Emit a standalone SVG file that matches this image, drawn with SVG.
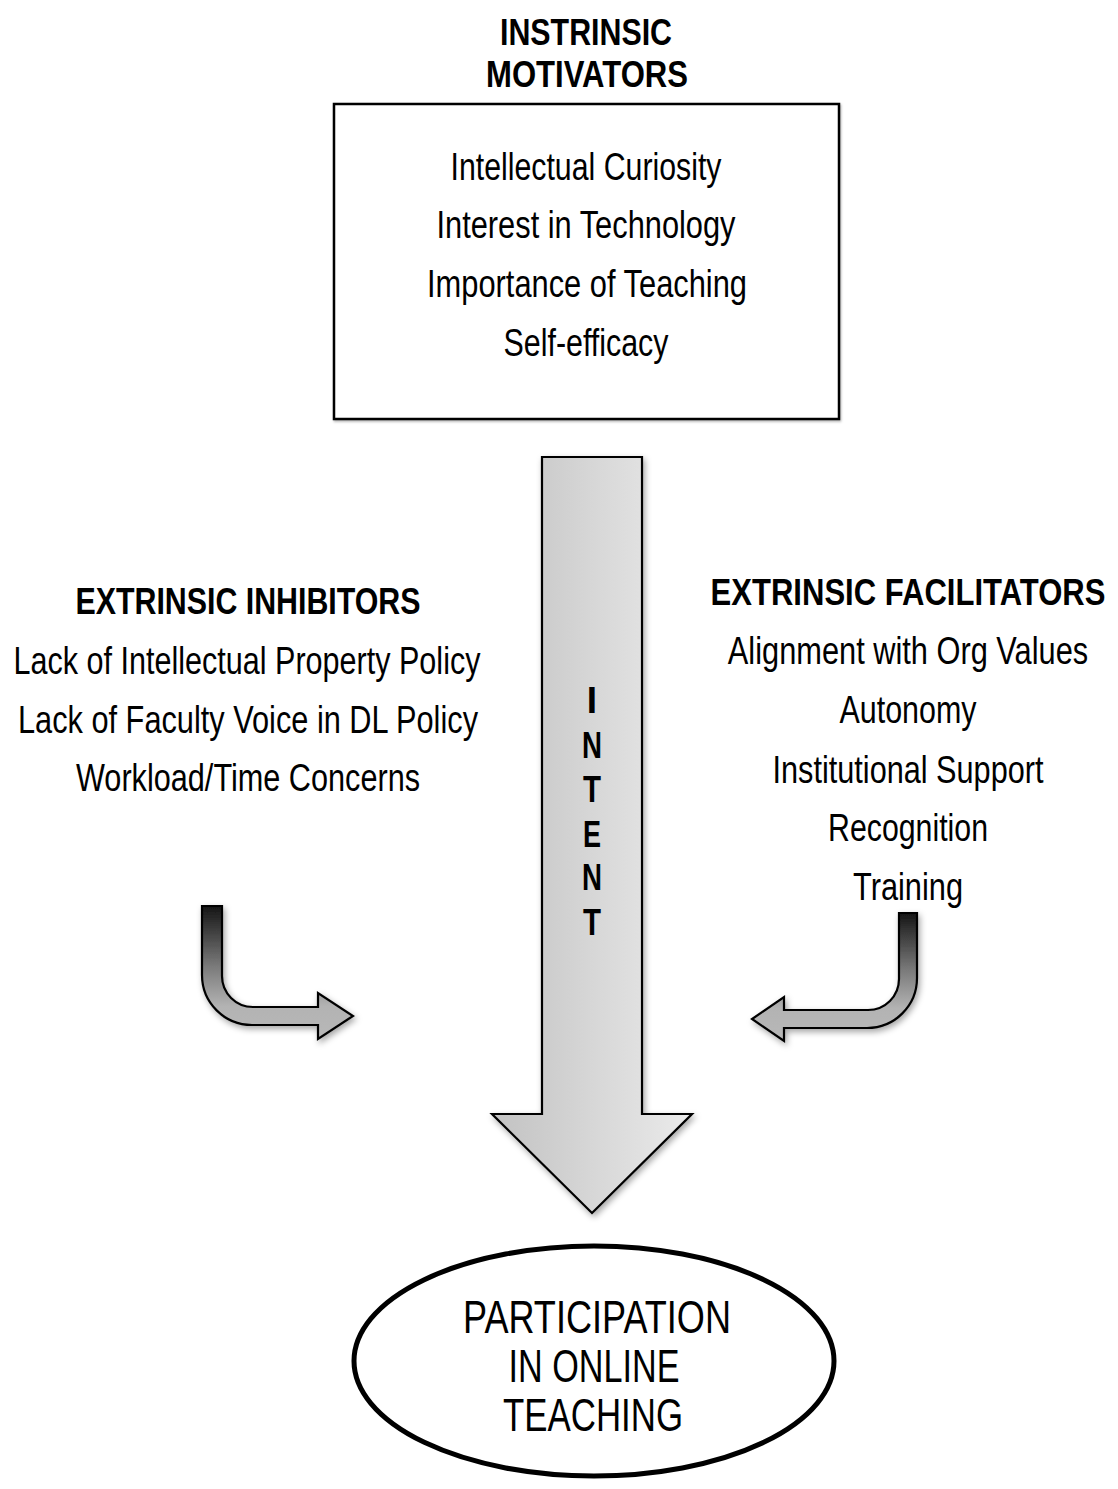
<svg xmlns="http://www.w3.org/2000/svg" width="1118" height="1489" viewBox="0 0 1118 1489">
  <style>
    .t { font-family: "Liberation Sans Narrow", "Liberation Sans", Arial, sans-serif; font-size: 38px; fill: #000; text-anchor: middle; }
    .b { font-weight: bold; font-size: 37px; }
    .big { font-size: 46px; }
    .outline { stroke: #000; stroke-width: 2.2; stroke-linejoin: miter; }
  </style>
  <defs>
    <linearGradient id="shaftGrad" gradientUnits="userSpaceOnUse" x1="492" y1="0" x2="692" y2="0">
      <stop offset="0" stop-color="#c2c2c2"/>
      <stop offset="1" stop-color="#ebebeb"/>
    </linearGradient>
    <linearGradient id="bendGradL" gradientUnits="userSpaceOnUse" x1="0" y1="906" x2="0" y2="1040">
      <stop offset="0" stop-color="#151515"/>
      <stop offset="0.45" stop-color="#7a7a7a"/>
      <stop offset="0.75" stop-color="#b3b3b3"/>
      <stop offset="1" stop-color="#b8b8b8"/>
    </linearGradient>
    <linearGradient id="bendGradR" gradientUnits="userSpaceOnUse" x1="0" y1="913" x2="0" y2="1040">
      <stop offset="0" stop-color="#151515"/>
      <stop offset="0.45" stop-color="#7a7a7a"/>
      <stop offset="0.75" stop-color="#b3b3b3"/>
      <stop offset="1" stop-color="#b8b8b8"/>
    </linearGradient>
    <filter id="shadow" x="-20%" y="-20%" width="140%" height="140%">
      <feDropShadow dx="2" dy="3" stdDeviation="3" flood-color="#000" flood-opacity="0.35"/>
    </filter>
    <filter id="boxShadow" x="-5%" y="-5%" width="110%" height="110%">
      <feDropShadow dx="1" dy="1.5" stdDeviation="1.2" flood-color="#000" flood-opacity="0.3"/>
    </filter>
  </defs>

  <!-- Intrinsic motivators -->
  <g id="intrinsic-motivators">
    <text class="t b" x="586" y="45" textLength="172" lengthAdjust="spacingAndGlyphs">INSTRINSIC</text>
    <text class="t b" x="587" y="87" textLength="202" lengthAdjust="spacingAndGlyphs">MOTIVATORS</text>
    <rect x="334" y="104" width="505" height="315" fill="#fff" stroke="#000" stroke-width="2.5" filter="url(#boxShadow)"/>
    <text class="t" x="586" y="180" textLength="271" lengthAdjust="spacingAndGlyphs">Intellectual Curiosity</text>
    <text class="t" x="586" y="238" textLength="299" lengthAdjust="spacingAndGlyphs">Interest in Technology</text>
    <text class="t" x="587" y="297" textLength="320" lengthAdjust="spacingAndGlyphs">Importance of Teaching</text>
    <text class="t" x="586" y="356" textLength="165" lengthAdjust="spacingAndGlyphs">Self-efficacy</text>
  </g>

  <!-- Extrinsic inhibitors -->
  <g id="extrinsic-inhibitors">
    <text class="t b" x="248" y="614" textLength="345" lengthAdjust="spacingAndGlyphs">EXTRINSIC INHIBITORS</text>
    <text class="t" x="247" y="674" textLength="467" lengthAdjust="spacingAndGlyphs">Lack of Intellectual Property Policy</text>
    <text class="t" x="248" y="733" textLength="460" lengthAdjust="spacingAndGlyphs">Lack of Faculty Voice in DL Policy</text>
    <text class="t" x="248" y="791" textLength="344" lengthAdjust="spacingAndGlyphs">Workload/Time Concerns</text>
  </g>

  <!-- Extrinsic facilitators (condensed with a horizontal scale) -->
  <g id="extrinsic-facilitators">
    <text class="t b" transform="translate(908,605) scale(0.84,1)" x="0" y="0" textLength="470" lengthAdjust="spacingAndGlyphs">EXTRINSIC FACILITATORS</text>
    <text class="t" transform="translate(908,664) scale(0.84,1)" x="0" y="0" textLength="429" lengthAdjust="spacingAndGlyphs">Alignment with Org Values</text>
    <text class="t" x="908" y="723" textLength="137" lengthAdjust="spacingAndGlyphs">Autonomy</text>
    <text class="t" x="908" y="783" textLength="271" lengthAdjust="spacingAndGlyphs">Institutional Support</text>
    <text class="t" x="908" y="841" textLength="160" lengthAdjust="spacingAndGlyphs">Recognition</text>
    <text class="t" x="908" y="900" textLength="110" lengthAdjust="spacingAndGlyphs">Training</text>
  </g>

  <!-- Connectors: central intent arrow and the two bent arrows -->
  <g id="connectors">
    <g id="intent-arrow">
      <polygon points="542,457 642,457 642,1114 692,1114 592,1213 492,1114 542,1114" fill="url(#shaftGrad)" class="outline" filter="url(#shadow)"/>
      <g class="t b">
        <text x="592" y="713">I</text>
        <text x="592" y="758" textLength="20" lengthAdjust="spacingAndGlyphs">N</text>
        <text x="592" y="802" textLength="18" lengthAdjust="spacingAndGlyphs">T</text>
        <text x="592" y="847" textLength="18" lengthAdjust="spacingAndGlyphs">E</text>
        <text x="592" y="890" textLength="20" lengthAdjust="spacingAndGlyphs">N</text>
        <text x="592" y="935" textLength="18" lengthAdjust="spacingAndGlyphs">T</text>
      </g>
    </g>
    <path id="inhibitor-arrow" d="M202,906 L202,975 A50,50 0 0 0 252,1025 L318,1025 L318,1039 L353,1016 L318,993 L318,1007 L253,1007 A31,31 0 0 1 222,976 L222,906 Z" fill="url(#bendGradL)" class="outline" filter="url(#shadow)"/>
    <path id="facilitator-arrow" d="M917,913 L917,978 A50,50 0 0 1 867,1028 L784,1028 L784,1041 L752,1019 L784,997 L784,1010 L868,1010 A31,31 0 0 0 899,979 L899,913 Z" fill="url(#bendGradR)" class="outline" filter="url(#shadow)"/>
  </g>

  <!-- Outcome -->
  <g id="participation">
    <ellipse cx="594" cy="1361" rx="240" ry="115" fill="#fff" stroke="#000" stroke-width="5"/>
    <text class="t big" x="597" y="1333" textLength="268" lengthAdjust="spacingAndGlyphs">PARTICIPATION</text>
    <text class="t big" x="594" y="1382" textLength="171" lengthAdjust="spacingAndGlyphs">IN ONLINE</text>
    <text class="t big" x="593" y="1431" textLength="180" lengthAdjust="spacingAndGlyphs">TEACHING</text>
  </g>
</svg>
